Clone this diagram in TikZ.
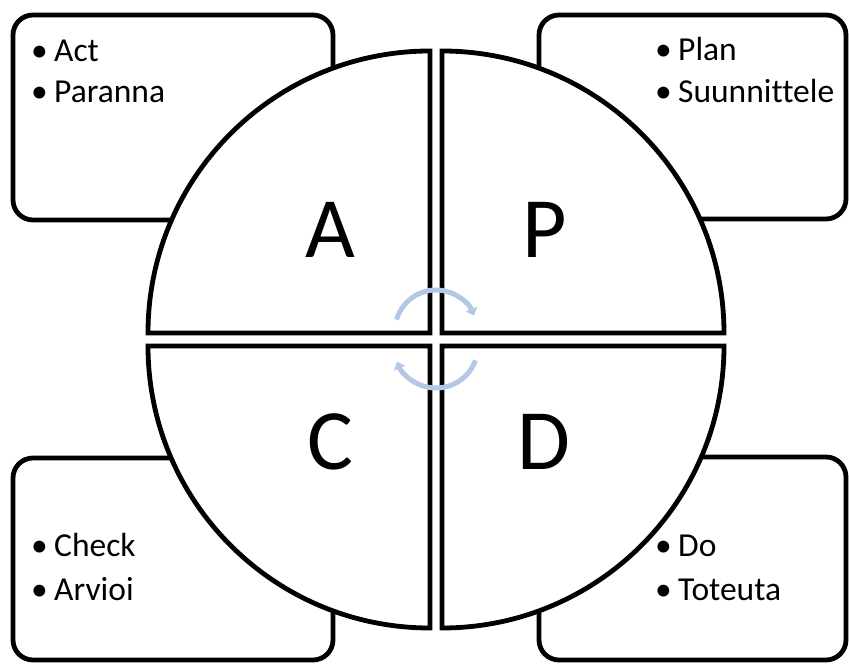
\documentclass[tikz,border=0pt]{standalone}
\usepackage{fontspec}
\setmainfont[Ligatures={NoCommon}]{Carlito}
\usetikzlibrary{arrows.meta}
\definecolor{arrowblue}{RGB}{180,199,231}
\newcommand\pdcabul[1]{\makebox[23pt][l]{•}#1}
\begin{document}
\begin{tikzpicture}[x=1pt,y=1pt,
  box/.style={draw=black,line width=4.8pt,rounded corners=20pt,fill=white},
  quad/.style={draw=black,line width=4.8pt,fill=white,line join=miter},
  letter/.style={font=\fontsize{86}{86}\selectfont,anchor=base,inner sep=0},
  item/.style={font=\fontsize{33.5}{40}\selectfont,anchor=base west,inner sep=0},
  cyc/.style={draw=arrowblue,line width=5pt,-{Triangle[length=7pt,width=12pt]}}]
\useasboundingbox (0,0) rectangle (849,664);
% corner boxes
\draw[box] (13,444) rectangle (333,649);
\draw[box] (539,445) rectangle (846,649);
\draw[box] (13,4) rectangle (333,206);
\draw[box] (539,4) rectangle (846,207);
% quadrants
\draw[quad] (430,331) -- ++(-282,0) arc[start angle=180,end angle=90,radius=282] -- cycle;
\draw[quad] (442,331) -- ++(0,282) arc[start angle=90,end angle=0,radius=282] -- cycle;
\draw[quad] (430,318) -- ++(-282,0) arc[start angle=180,end angle=270,radius=282] -- cycle;
\draw[quad] (442,318) -- ++(282,0) arc[start angle=0,end angle=-90,radius=282] -- cycle;
% letters
\node[letter] (A) at (330,406) {A};
\node[letter] (P) at (545,406) {P};
\node[letter] (C) at (330,194) {C};
\node[letter] (D) at (544,194) {D};
% cycle arrows
\coordinate (uc) at (436,333);
\coordinate (lc) at (436,318);
\draw[cyc] ([shift={(164:41)}]uc) arc[start angle=164,end angle=22,radius=41];
\draw[cyc] ([shift={(-20:42)}]lc) arc[start angle=-20,end angle=-158,radius=42];
% texts
\node[item] (t1) at (31,602) {\pdcabul{Act}};
\node[item] (t2) at (31,561) {\pdcabul{Paranna}};
\node[item] (t3) at (655,603) {\pdcabul{Plan}};
\node[item] (t4) at (655,561) {\pdcabul{Suunnittele}};
\node[item] (t5) at (31,107) {\pdcabul{Check}};
\node[item] (t6) at (31,63) {\pdcabul{Arvioi}};
\node[item] (t7) at (655,107) {\pdcabul{Do}};
\node[item] (t8) at (655,63) {\pdcabul{Toteuta}};
\end{tikzpicture}
\end{document}
